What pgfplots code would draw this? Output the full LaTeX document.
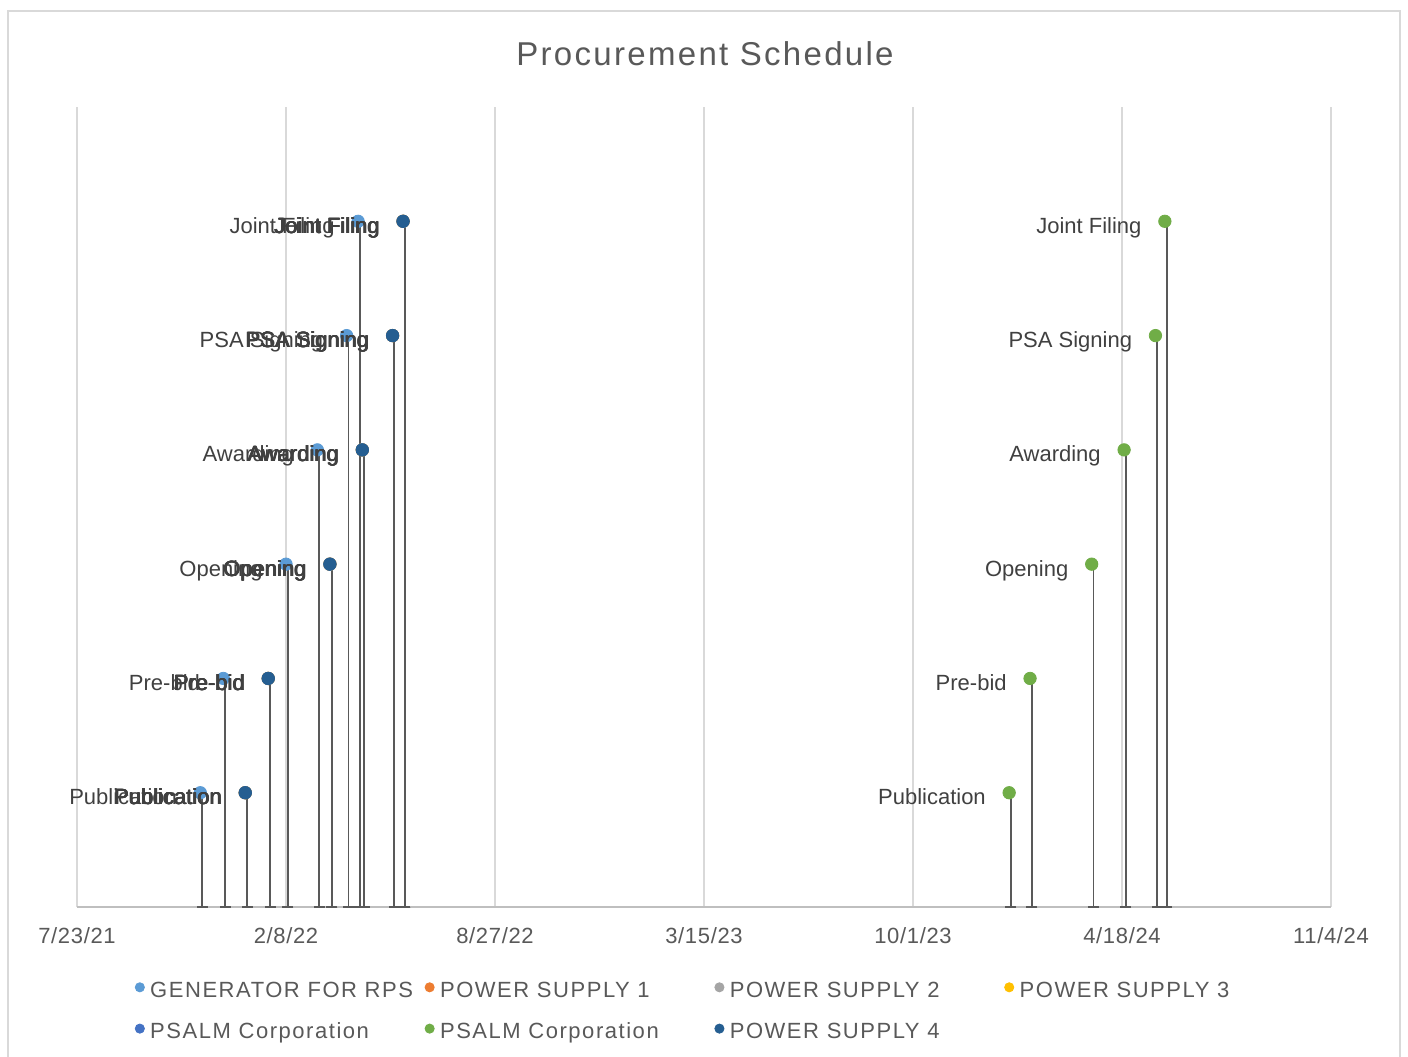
\documentclass[border=0pt]{standalone}
\usepackage{fontspec}
\setmainfont{Liberation Sans}
\newfontfamily\titlefont[LetterSpace=7]{Liberation Sans}
\newfontfamily\legfont[LetterSpace=7]{Liberation Sans}
\newfontfamily\tickfont[LetterSpace=3]{Liberation Sans}
\usepackage{pgfplots}
\usepackage{pgfplotstable}
\pgfplotsset{compat=1.18}

\definecolor{cGen}{HTML}{5B9BD5}
\definecolor{cPSa}{HTML}{ED7D31}
\definecolor{cPSb}{HTML}{A5A5A5}
\definecolor{cPSc}{HTML}{FFC000}
\definecolor{cPSALMb}{HTML}{4472C4}
\definecolor{cPSALMg}{HTML}{70AD47}
\definecolor{cPSd}{HTML}{255E91}
\definecolor{cText}{HTML}{595959}
\definecolor{cLab}{HTML}{404040}
\definecolor{cLine}{HTML}{595959}
\definecolor{cGrid}{HTML}{D9D9D9}
\definecolor{cAxis}{HTML}{BFBFBF}

\pgfplotstableread[col sep=comma]{
x,y,label
44518,1,Publication
44540,2,Pre-bid
44600,3,Opening
44630,4,Awarding
44658,5,PSA Signing
44669,6,Joint Filing
}\gen
\pgfplotstableread[col sep=comma]{
x,y,label
44561,1,Publication
44583,2,Pre-bid
44642,3,Opening
44673,4,Awarding
44702,5,PSA Signing
44712,6,Joint Filing
}\psf
\pgfplotstableread[col sep=comma]{
x,y,label
45292,1,Publication
45312,2,Pre-bid
45371,3,Opening
45402,4,Awarding
45432,5,PSA Signing
45441,6,Joint Filing
}\psalm

\pgfplotsset{
  drop/.style={forget plot, only marks, mark=none, xshift=0.9pt,
    error bars/.cd, y dir=minus, y fixed relative=1, error mark=|,
    error bar style={color=cLine, line width=0.9pt},
    error mark options={color=cLine, line width=0.9pt, mark size=2.75pt}},
  dot/.style={only marks, mark=*, mark size=3.1pt, color=#1,
    legend image code/.code={\fill[#1] (0pt,2.1pt) circle (2.3pt);}},
  lab/.style={nodes near coords, point meta=explicit symbolic,
    every node near coord/.append style={anchor=base east, xshift=#1, yshift=-6pt,
      inner sep=0pt, font=\fontsize{11}{13}\selectfont, text=cLab}},
}

\begin{document}
\begin{tikzpicture}
\useasboundingbox[fill=white] (0pt,0pt) rectangle (704pt,-528pt);
\draw[color=cGrid, line width=1pt] (4pt,-531pt) -- (4pt,-5.5pt) -- (700pt,-5.5pt) -- (700pt,-531pt);
\node[font=\titlefont\fontsize{16.5}{19}\selectfont, text=cText, anchor=base] at (352.5pt,-32.5pt) {Procurement Schedule};
\begin{axis}[
  at={(38.5pt,-453.5pt)}, anchor=south west,
  scale only axis, width=627pt, height=400pt,
  xmin=44400, xmax=45600, ymin=0, ymax=7,
  clip=false,
  scaled x ticks=false,
  axis x line*=bottom, axis y line=none,
  x axis line style={color=cAxis, line width=1pt},
  xtick={44400,44600,44800,45000,45200,45400,45600},
  xticklabels={7/23/21,2/8/22,8/27/22,3/15/23,10/1/23,4/18/24,11/4/24},
  xticklabel style={anchor=base, yshift=-18.2pt, font=\tickfont\fontsize{11}{13}\selectfont, text=cText},
  major tick length=0pt,
  ytick=\empty,
  xmajorgrids, grid style={color=cGrid, line width=0.75pt},
  legend columns=4,
  legend cell align=left,
  legend style={draw=none, fill=none, at={(0.0458,-0.092)}, anchor=north west,
    inner sep=0pt, font=\legfont\fontsize{11}{13}\selectfont, text=cText,
    row sep=10.15pt,
    /tikz/every odd column/.style={column sep=2.7pt},
    /tikz/every even column/.style={column sep=0pt},
    nodes={inner sep=0pt, text height=8pt, text depth=2.5pt}},
]
% GENERATOR FOR RPS
\addplot[drop] table[x=x,y=y]{\gen};
\addplot[dot=cGen, lab=-11.5pt] table[x=x,y=y,meta=label]{\gen};
\addlegendentry{\makebox[137.2pt][l]{GENERATOR FOR RPS}}
% POWER SUPPLY 1
\addplot[drop] table[x=x,y=y]{\psf};
\addplot[dot=cPSa, lab=-11.25pt] table[x=x,y=y,meta=label]{\psf};
\addlegendentry{\makebox[137.2pt][l]{POWER SUPPLY 1}}
% POWER SUPPLY 2
\addplot[drop] table[x=x,y=y]{\psf};
\addplot[dot=cPSb, lab=-11.75pt] table[x=x,y=y,meta=label]{\psf};
\addlegendentry{\makebox[137.2pt][l]{POWER SUPPLY 2}}
% POWER SUPPLY 3
\addplot[drop] table[x=x,y=y]{\psf};
\addplot[dot=cPSc, lab=-11.5pt] table[x=x,y=y,meta=label]{\psf};
\addlegendentry{\makebox[137.2pt][l]{POWER SUPPLY 3}}
% PSALM Corporation (blue)
\addplot[drop] table[x=x,y=y]{\psf};
\addplot[dot=cPSALMb, lab=-11.5pt] table[x=x,y=y,meta=label]{\psf};
\addlegendentry{\makebox[137.2pt][l]{PSALM Corporation}}
% PSALM Corporation (green)
\addplot[drop] table[x=x,y=y]{\psalm};
\addplot[dot=cPSALMg, lab=-11.5pt] table[x=x,y=y,meta=label]{\psalm};
\addlegendentry{\makebox[137.2pt][l]{PSALM Corporation}}
% POWER SUPPLY 4
\addplot[drop] table[x=x,y=y]{\psf};
\addplot[dot=cPSd, lab=-11.5pt] table[x=x,y=y,meta=label]{\psf};
\addlegendentry{\makebox[137.2pt][l]{POWER SUPPLY 4}}
\end{axis}
\end{tikzpicture}
\end{document}
